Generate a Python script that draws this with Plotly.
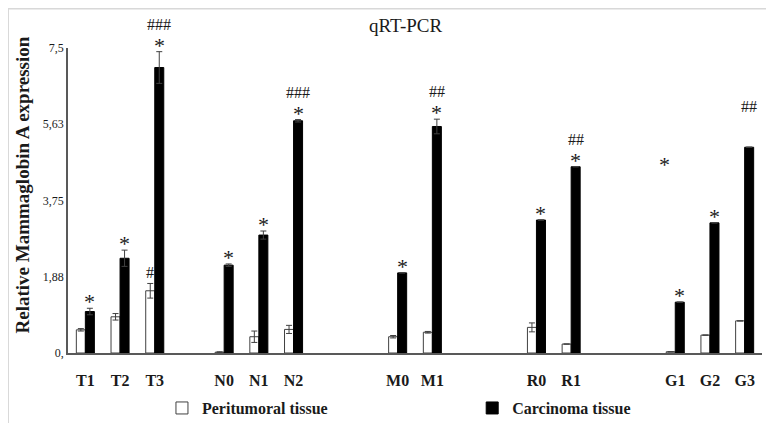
import plotly.graph_objects as go

# ---- data ----
groups = [["T1", "T2", "T3"], ["N0", "N1", "N2"], ["M0", "M1"], ["R0", "R1"], ["G1", "G2", "G3"]]
gaps_before = [0, 1, 2, 2, 2]  # empty category slots before each group

categories = [c for g in groups for c in g]
peritumoral = [0.57, 0.89, 1.53, 0.02, 0.40, 0.58, 0.40, 0.51, 0.63, 0.22, 0.03, 0.44, 0.79]
peritumoral_err = [0.03, 0.08, 0.18, 0.01, 0.14, 0.10, 0.03, 0.02, 0.11, 0.0, 0.0, 0.0, 0.0]
carcinoma = [1.02, 2.33, 7.02, 2.16, 2.90, 5.71, 1.97, 5.57, 3.27, 4.58, 1.25, 3.20, 5.06]
carcinoma_err = [0.08, 0.20, 0.39, 0.03, 0.10, 0.03, 0.0, 0.18, 0.0, 0.0, 0.0, 0.0, 0.0]

star_carcinoma = ["*", "*", "*", "*", "*", "*", "*", "*", "*", "*", "*", "*", ""]
hash_carcinoma = ["", "", "###", "", "", "###", "", "##", "", "##", "", "", "##"]
hash_peritumoral = ["", "", "#", "", "", "", "", "", "", "", "", "", ""]

y_ticks = [0, 1.875, 3.75, 5.625, 7.5]
y_ticktext = ["0,", "1,88", "3,75", "5,63", "7,5"]

# ---- slot positions from group structure ----
pos = []
slot = 0
for g, gap in zip(groups, gaps_before):
    slot += gap
    for _ in g:
        pos.append(slot)
        slot += 1
n_slots = slot

SERIF = "Liberation Serif"
TXT = "#1a1a1a"

fig = go.Figure()
fig.add_trace(go.Bar(
    x=pos, y=peritumoral, name="Peritumoral tissue", legend="legend",
    marker=dict(color="white", line=dict(color="#404040", width=1)),
    error_y=dict(type="data", array=peritumoral_err, color="#404040", thickness=1, width=3),
))
fig.add_trace(go.Bar(
    x=pos, y=carcinoma, name="Carcinoma tissue", legend="legend2",
    marker=dict(color="black", line=dict(color="black", width=1)),
    error_y=dict(type="data", array=carcinoma_err, color="#404040", thickness=1, width=3),
))

ann = []
off = 0.13
for i, p in enumerate(pos):
    top_c = carcinoma[i] + carcinoma_err[i]
    if star_carcinoma[i]:
        ann.append(dict(x=p + off, y=top_c, text=star_carcinoma[i], showarrow=False,
                        yanchor="bottom", yshift=-8, font=dict(family=SERIF, size=22, color=TXT)))
    if hash_carcinoma[i]:
        ann.append(dict(x=p + off, y=top_c, text=hash_carcinoma[i], showarrow=False,
                        yanchor="bottom", yshift=17 if star_carcinoma[i] else 30,
                        font=dict(family=SERIF, size=16, color=TXT)))
    if hash_peritumoral[i]:
        top_p = peritumoral[i] + peritumoral_err[i]
        ann.append(dict(x=p - off, y=top_p, text=hash_peritumoral[i], showarrow=False,
                        yanchor="bottom", yshift=0, font=dict(family=SERIF, size=16, color=TXT)))

# stray asterisk left above G1
g1 = pos[categories.index("G1")]
ann.append(dict(x=g1 - 0.3, y=4.77, text="*", showarrow=False, yanchor="middle", yshift=-5,
                font=dict(family=SERIF, size=22, color=TXT)))

# title & y-axis title
ann.append(dict(xref="paper", yref="paper", x=0.486, y=1.0, yanchor="bottom", yshift=10,
                text="qRT-PCR", showarrow=False, font=dict(family=SERIF, size=19, color=TXT)))
ann.append(dict(xref="paper", yref="paper", x=-0.066, y=0.55, textangle=-90,
                xanchor="center", yanchor="middle",
                text="Relative Mammaglobin A expression", showarrow=False,
                font=dict(family=SERIF, size=19, color=TXT, weight="bold")))

legend_font = dict(family=SERIF, size=16, color=TXT, weight="bold")
fig.update_layout(
    width=766, height=415,
    margin=dict(l=60, r=12, t=40, b=70, autoexpand=False),
    paper_bgcolor="white", plot_bgcolor="white",
    barmode="group", bargap=0.48, bargroupgap=0,
    showlegend=True,
    legend=dict(orientation="h", xref="container", yref="container", x=0.201, y=0.036,
                xanchor="left", yanchor="middle", font=legend_font, itemwidth=30),
    legend2=dict(orientation="h", xref="container", yref="container", x=0.606, y=0.036,
                 xanchor="left", yanchor="middle", font=legend_font, itemwidth=30),
    annotations=ann,
    shapes=[
        dict(type="line", xref="paper", yref="paper", x0=-0.0865, x1=1.02, y0=1.1295, y1=1.1295,
             line=dict(color="#d8d8d8", width=2)),
        dict(type="line", xref="paper", yref="paper", x0=-0.0865, x1=-0.0865, y0=1.1295, y1=-0.25,
             line=dict(color="#d8d8d8", width=2)),
    ],
)
fig.update_xaxes(range=[-0.5, n_slots - 0.5], tickvals=pos, ticktext=categories,
                 showline=True, linecolor="#595959", linewidth=1.5, showgrid=False, zeroline=False,
                 ticks="", ticklabelstandoff=12,
                 tickfont=dict(family=SERIF, size=16, color=TXT, weight="bold"))
fig.update_yaxes(range=[0, 7.5], tickvals=y_ticks, ticktext=y_ticktext,
                 showline=True, linecolor="#595959", linewidth=1.5, showgrid=False, zeroline=False,
                 ticks="", tickfont=dict(family=SERIF, size=12, color=TXT))

fig.write_html("out.html")
